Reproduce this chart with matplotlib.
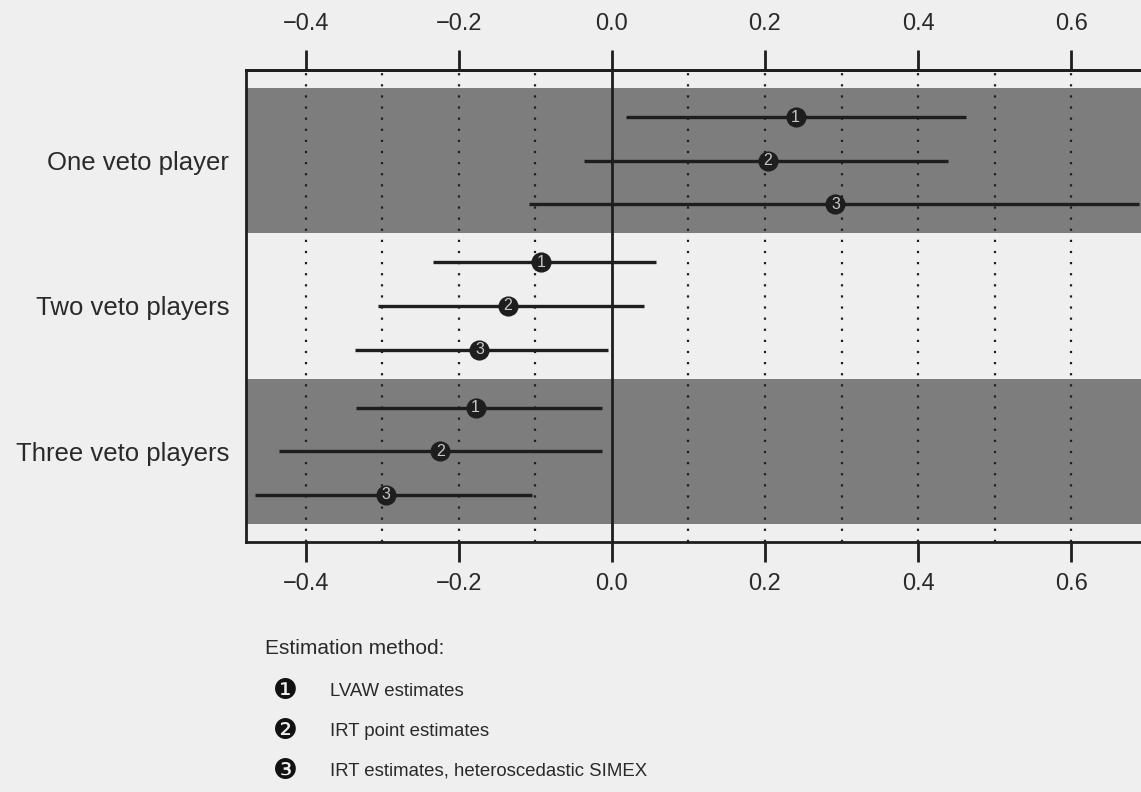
import numpy as np
import matplotlib.pyplot as plt

plt.rcParams['font.family'] = ['Liberation Sans', 'DejaVu Sans']

groups = ["One veto player", "Two veto players", "Three veto players"]
methods = ["LVAW estimates", "IRT point estimates", "IRT estimates, heteroscedastic SIMEX"]

# point estimates and interval bounds, rows = groups, cols = methods
est = np.array([[0.240, 0.204, 0.292],
                [-0.092, -0.136, -0.173],
                [-0.178, -0.224, -0.295]])
lo = np.array([[0.018, -0.037, -0.108],
               [-0.234, -0.306, -0.335],
               [-0.334, -0.435, -0.466]])
hi = np.array([[0.463, 0.439, 0.688],
               [0.057, 0.042, -0.005],
               [-0.013, -0.013, -0.104]])

xticks = [-0.4, -0.2, 0.0, 0.2, 0.4, 0.6]
xlabels = [f"{v:.1f}".replace('-', '\u2212') for v in xticks]
bg = '#efefef'
band = '#7d7d7d'
ink = '#1e1e1e'
txt = '#2a2a2a'

fig = plt.figure(figsize=(11.41, 7.92), dpi=100, facecolor=bg)
ax = fig.add_axes([246/1141, 1 - 542/792, (1150 - 246)/1141, 472/792])
ax.set_facecolor(bg)

ax.set_xlim(-0.478, 0.703)
ax.set_ylim(2.624, -0.624)

for g in range(len(groups)):
    if g % 2 == 0:
        ax.axhspan(g - 0.5, g + 0.5, color=band, zorder=0, lw=0)

for xv in np.arange(-0.4, 0.75, 0.1):
    if abs(xv) > 1e-9:
        ax.axvline(xv, color=ink, ls=(0, (1, 4)), lw=1.6, zorder=1)
ax.axvline(0, color=ink, lw=2, zorder=2)

offs = [-0.3, 0.0, 0.3]
for g in range(len(groups)):
    for m in range(len(methods)):
        y = g + offs[m]
        ax.plot([lo[g, m], hi[g, m]], [y, y], color=ink, lw=2.4,
                solid_capstyle='butt', zorder=3)
        ax.plot(est[g, m], y, 'o', ms=13.5, color=ink, zorder=4)
        ax.text(est[g, m], y, str(m + 1), color='#c8c8c8', fontsize=11.5,
                ha='center', va='center', zorder=5)

ax.set_yticks(range(len(groups)))
ax.set_yticklabels(groups, fontsize=18.5, color=txt)
ax.tick_params(axis='y', length=0, pad=12)

ax.set_xticks(xticks)
ax.set_xticklabels(xlabels, fontsize=17, color=txt)
ax.tick_params(axis='x', length=14.5, width=2, color=ink, pad=8, direction='out')

top = ax.secondary_xaxis('top')
top.set_xticks(xticks)
top.set_xticklabels(xlabels, fontsize=17, color=txt)
top.tick_params(axis='x', length=14.5, width=2, color=ink, pad=11, direction='out')
top.spines['top'].set_linewidth(2)
top.spines['top'].set_color(ink)

for s in ax.spines.values():
    s.set_linewidth(2)
    s.set_color(ink)

# legend block below the panel
fig.text(265/1141, 1 - 648/792, "Estimation method:", fontsize=15,
         color=txt, va='center')
glyphs = ['\u2776', '\u2777', '\u2778']
for m, name in enumerate(methods):
    yy = 1 - (691 + 40*m)/792
    fig.text(285/1141, yy, glyphs[m], family='DejaVu Sans', fontsize=20,
             color='#111111', ha='center', va='center')
    fig.text(330/1141, yy, name, fontsize=13.4, color=txt, va='center')

fig.savefig('out.png', dpi=100, facecolor=bg)
